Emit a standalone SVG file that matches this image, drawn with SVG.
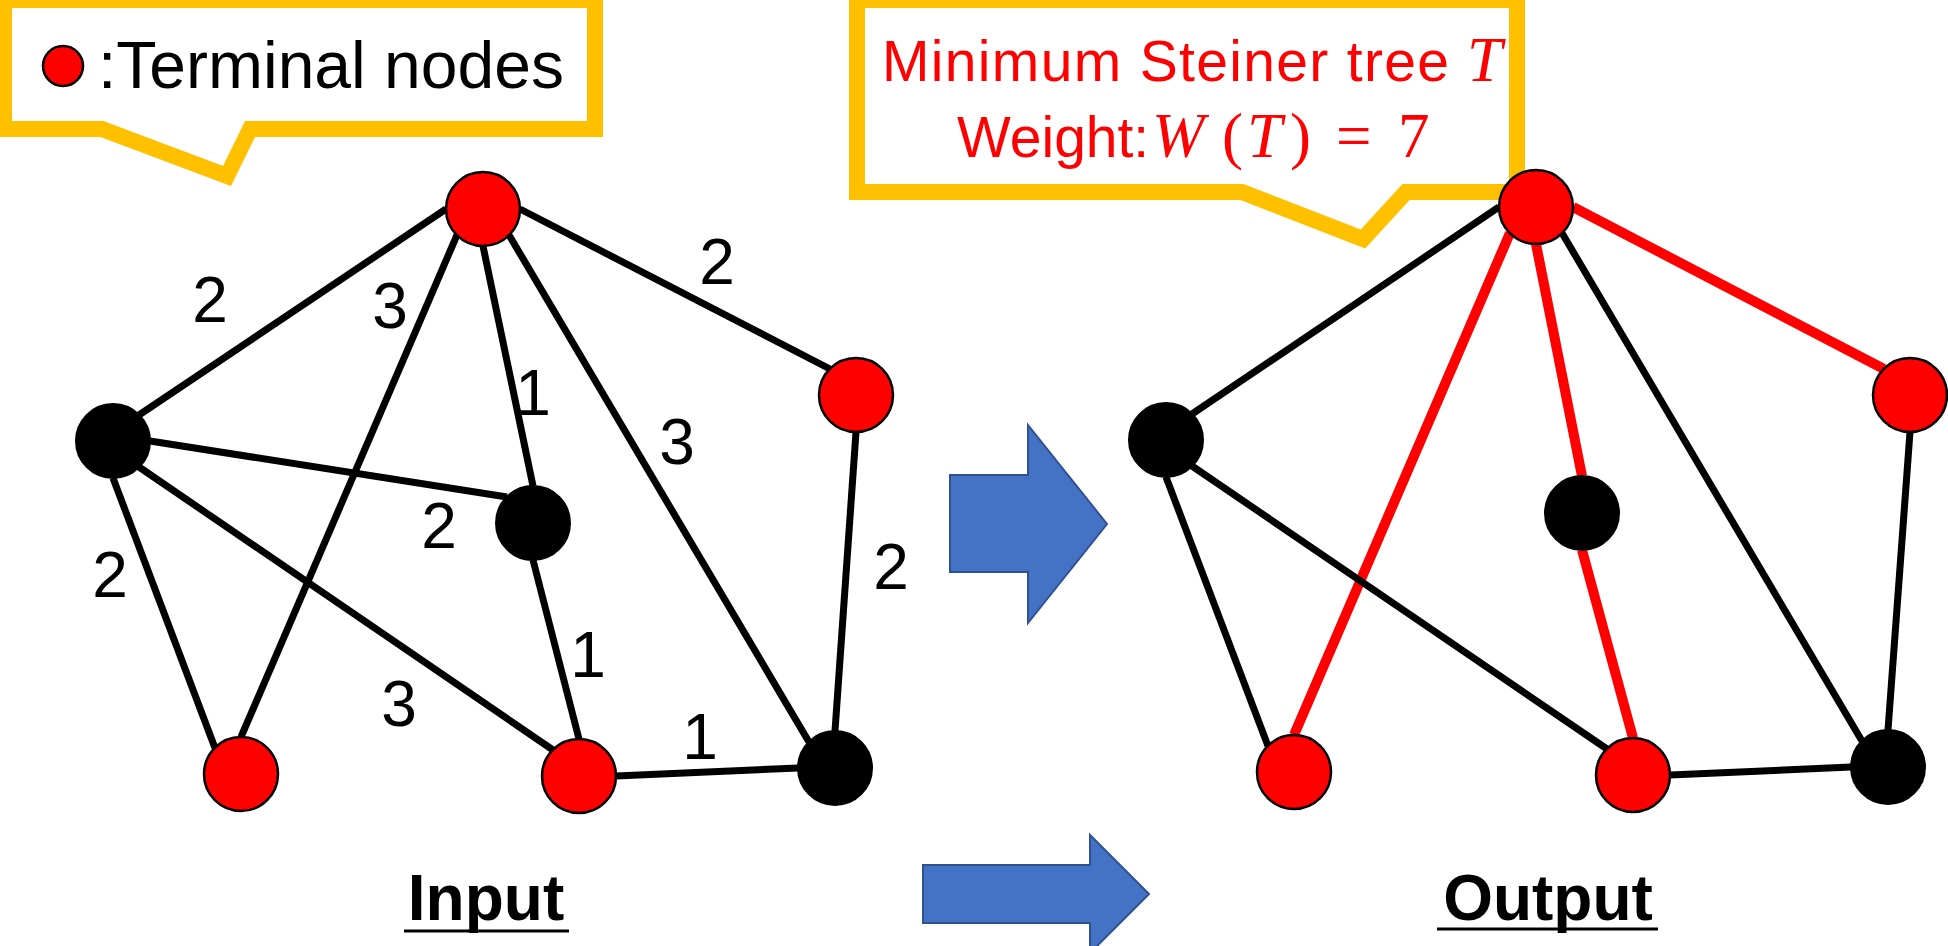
<svg xmlns="http://www.w3.org/2000/svg" width="1948" height="946" viewBox="0 0 1948 946">
<style>
.bg{fill:#ffffff}
.callout{fill:#ffffff;stroke:#FFC000;stroke-width:16;stroke-linejoin:miter}
.e{stroke:#000000;stroke-width:7;stroke-linecap:butt;fill:none}
.r{stroke:#FF0000;stroke-width:10;stroke-linecap:butt;fill:none}
.term{fill:#FF0000;stroke:#000000;stroke-width:2.5}
.steiner{fill:#000000;stroke:#000000;stroke-width:2}
.w{font-family:"Liberation Sans",Arial,sans-serif;font-size:64px;fill:#000000;text-anchor:middle}
.lbl{font-family:"Liberation Sans",Arial,sans-serif;font-size:64px;font-weight:bold;fill:#000000;text-anchor:middle}
.ul{stroke:#000000;stroke-width:3}
.arrow{fill:#4472C4;stroke:#2F528F;stroke-width:2}
.red{fill:#FF0000}
.sans{font-family:"Liberation Sans",Arial,sans-serif;font-size:57px}
.math{font-family:"Liberation Serif","Times New Roman",serif;font-size:63px}
.it{font-style:italic}
</style>
<rect class="bg" x="0" y="0" width="1948" height="946"/>

<g id="legend-callout">
<path class="callout" d="M4,0 H595 V129 H250 L227,176 L102,129 H4 Z"/>
<circle class="term" cx="63" cy="66" r="20"/>
<text x="98" y="88" style="font-family:'Liberation Sans',Arial,sans-serif;font-size:66px;fill:#000">:Terminal nodes</text>
</g>

<g id="result-callout">
<path class="callout" d="M857,0 H1517 V192 H1406 L1363,239 L1242,192 H857 Z"/>
<text class="sans red" x="882" y="81" textLength="567" lengthAdjust="spacing">Minimum Steiner tree</text>
<text class="math it red" x="1467" y="81">T</text>
<text class="sans red" x="957" y="157">Weight:</text>
<text class="math red" y="157"><tspan class="it" x="1152">W</tspan><tspan x="1222">(</tspan><tspan class="it" x="1247">T</tspan><tspan x="1290">)</tspan><tspan x="1336">=</tspan><tspan x="1398">7</tspan></text>
</g>

<g id="connectors">
<!-- input graph -->
<line class="e" x1="446" y1="209" x2="139" y2="415"/>
<line class="e" x1="457" y1="235" x2="241" y2="737"/>
<line class="e" x1="483" y1="246" x2="533" y2="486"/>
<line class="e" x1="509" y1="235" x2="809" y2="742"/>
<line class="e" x1="520" y1="209" x2="830" y2="369"/>
<line class="e" x1="150" y1="441" x2="507" y2="497"/>
<line class="e" x1="113" y1="478" x2="215" y2="748"/>
<line class="e" x1="139" y1="467" x2="553" y2="750"/>
<line class="e" x1="533" y1="560" x2="579" y2="739"/>
<line class="e" x1="616" y1="776" x2="798" y2="768"/>
<line class="e" x1="856" y1="432" x2="835" y2="731"/>
<!-- output graph -->
<line class="e" x1="1499" y1="207" x2="1192" y2="414"/>
<line class="r" x1="1510" y1="233" x2="1294" y2="735"/>
<line class="r" x1="1536" y1="244" x2="1582" y2="476"/>
<line class="e" x1="1562" y1="233" x2="1862" y2="741"/>
<line class="r" x1="1573" y1="207" x2="1884" y2="369"/>
<line class="e" x1="1166" y1="477" x2="1268" y2="746"/>
<line class="e" x1="1192" y1="466" x2="1607" y2="749"/>
<line class="r" x1="1582" y1="550" x2="1633" y2="738"/>
<line class="e" x1="1670" y1="775" x2="1851" y2="767"/>
<line class="e" x1="1910" y1="432" x2="1888" y2="730"/>
</g>

<g id="edge-weights">
<text class="w" x="210" y="322">2</text>
<text class="w" x="390" y="328">3</text>
<text class="w" x="533" y="415">1</text>
<text class="w" x="717" y="284">2</text>
<text class="w" x="677" y="464">3</text>
<text class="w" x="439" y="548">2</text>
<text class="w" x="110" y="597">2</text>
<text class="w" x="588" y="677">1</text>
<text class="w" x="399" y="726">3</text>
<text class="w" x="700" y="759">1</text>
<text class="w" x="891" y="589">2</text>
</g>

<g id="in-A"><circle class="term" cx="483" cy="209" r="37"/></g>
<g id="in-B"><circle class="steiner" cx="113" cy="441" r="37"/></g>
<g id="in-C"><circle class="steiner" cx="533" cy="523" r="37"/></g>
<g id="in-D"><circle class="term" cx="856" cy="395" r="37"/></g>
<g id="in-E"><circle class="term" cx="241" cy="774" r="37"/></g>
<g id="in-F"><circle class="term" cx="579" cy="776" r="37"/></g>
<g id="in-G"><circle class="steiner" cx="835" cy="768" r="37"/></g>

<g id="out-A"><circle class="term" cx="1536" cy="207" r="37"/></g>
<g id="out-B"><circle class="steiner" cx="1166" cy="440" r="37"/></g>
<g id="out-C"><circle class="steiner" cx="1582" cy="513" r="37"/></g>
<g id="out-D"><circle class="term" cx="1910" cy="395" r="37"/></g>
<g id="out-E"><circle class="term" cx="1294" cy="772" r="37"/></g>
<g id="out-F"><circle class="term" cx="1633" cy="775" r="37"/></g>
<g id="out-G"><circle class="steiner" cx="1888" cy="767" r="37"/></g>

<g id="arrow-main"><polygon class="arrow" points="950,475 1028,475 1028,425 1107,524 1028,623 1028,572 950,572"/></g>
<g id="arrow-bottom"><polygon class="arrow" points="923,865 1090,865 1090,835 1149,894 1090,953 1090,923 923,923"/></g>

<g id="label-input">
<text class="lbl" x="486" y="920">Input</text>
<line class="ul" x1="404" y1="931" x2="569" y2="931"/>
</g>
<g id="label-output">
<text class="lbl" x="1548" y="920">Output</text>
<line class="ul" x1="1437" y1="929" x2="1658" y2="929"/>
</g>
</svg>
